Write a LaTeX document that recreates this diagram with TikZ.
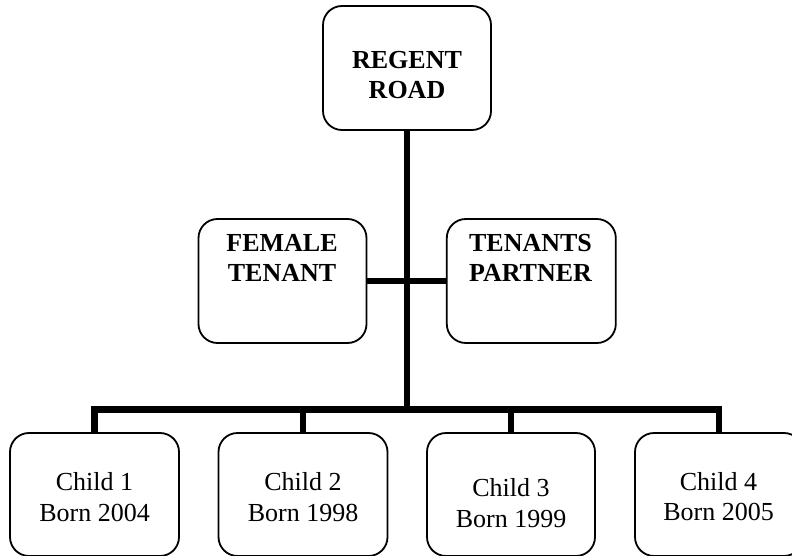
\documentclass[tikz,border=0pt]{standalone}
\usepackage{fontspec}
\setmainfont{Liberation Serif}
\begin{document}
\begin{tikzpicture}[x=1pt,y=-1pt,
  box/.style={draw=black,line width=1.8pt,rounded corners=19pt,inner sep=0pt,
    minimum width=168pt,minimum height=124pt,fill=white},
  cbox/.style={box,minimum height=123pt},
  lbl/.style={inner sep=0pt,align=center,font=\fontsize{26}{30}\selectfont},
  blbl/.style={lbl,font=\fontsize{26}{30}\selectfont\bfseries},
  clbl/.style={lbl,font=\fontsize{26}{30.5}\selectfont},
  conn/.style={line width=6.7pt,draw=black,line join=miter}]
\useasboundingbox (0,0) rectangle (792,556);
\clip (0,0) rectangle (792,556);
\fill[white] (0,0) rectangle (792,556);
% boxes
\node[box] (top) at (407,68) {};
\node[box] (fem) at (282.5,281) {};
\node[box,minimum width=169pt] (par) at (531.3,281) {};
\node[cbox,minimum width=169pt] (c1) at (94.5,494.5) {};
\node[cbox,minimum width=169pt] (c2) at (303,494.5) {};
\node[cbox] (c3) at (511,494.5) {};
\node[cbox] (c4) at (719,494.5) {};
% texts
\node[blbl] (topT) at (407,75.4) {REGENT\\ROAD};
\node[blbl] (femT) at (282,258.3) {FEMALE\\TENANT};
\node[blbl] (parT) at (530.5,258.3) {TENANTS\\PARTNER};
\node[clbl] (c1T) at (94.5,497) {Child 1\\Born 2004};
\node[clbl] (c2T) at (303,497) {Child 2\\Born 1998};
\node[clbl] (c3T) at (511,503) {Child 3\\Born 1999};
\node[clbl] (c4T) at (718.5,496.7) {Child 4\\Born 2005};
% connectors
\coordinate (bar) at (407,409.3);
\draw[conn] (top.south) -- (bar);
\draw[conn] (fem.east) -- (par.west);
\draw[conn] (c1.north) |- (bar) -| (c4.north);
\draw[conn] (c2.north) -- (c2.north |- bar);
\draw[conn] (c3.north) -- (c3.north |- bar);
\end{tikzpicture}
\end{document}
